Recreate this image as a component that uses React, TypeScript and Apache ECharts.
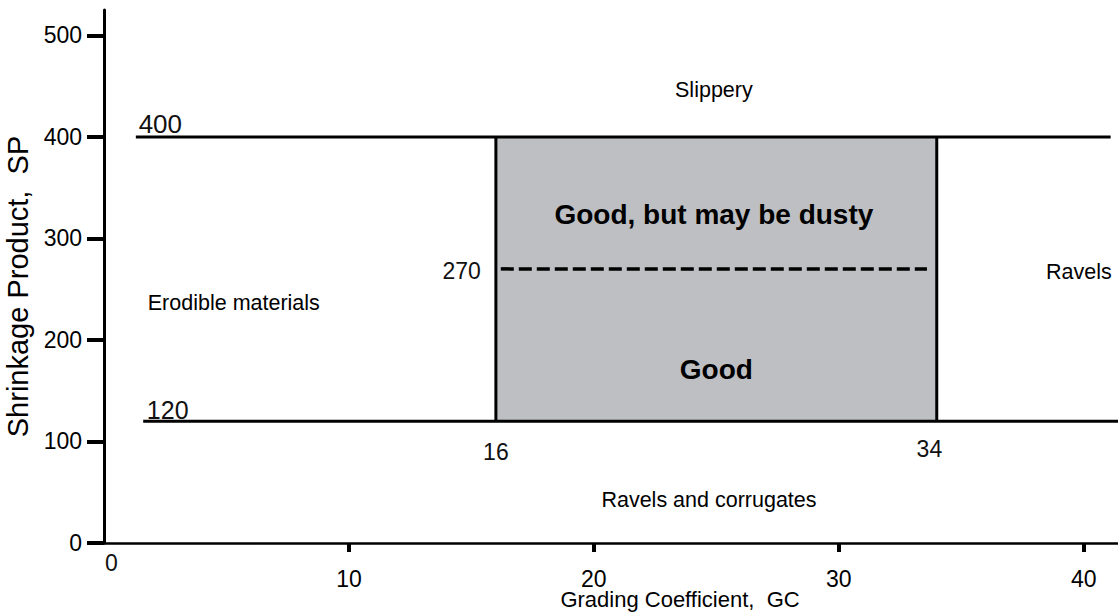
import React, { useEffect, useRef } from "react";
import * as echarts from "echarts";

// Zone boundaries (Grading Coefficient / Shrinkage Product)
const gcLow = 16;
const gcHigh = 34;
const spLow = 120;
const spHigh = 400;

// Boundary lines: [x1, x2, y] horizontal
const horizontalLines: [number, number, number][] = [
  [1.3, 41.1, 400],
  [1.6, 41.4, 120],
];
// vertical: [x, y1, y2]
const verticalLines: [number, number, number][] = [
  [16, 120, 400],
  [34, 120, 400],
];
// dashed SP = 270 boundary: [x1, x2, y]
const dashedLine: [number, number, number] = [16.2, 33.6, 270];

// Annotations: [text, x, y, kind]
const zoneLabels: [string, number, number, string][] = [
  ["Slippery", 24.9, 446, "normal"],
  ["Good, but may be dusty", 24.9, 324, "bold"],
  ["Good", 25, 171, "bold"],
  ["Erodible materials", 5.3, 236, "normal"],
  ["Ravels", 39.8, 267, "normal"],
  ["Ravels and corrugates", 24.7, 42, "normal"],
];
// Boundary value labels: [text, x, y, fontSize]
const valueLabels: [string, number, number, number][] = [
  ["400", 2.3, 413, 26],
  ["120", 2.6, 131, 25],
  ["270", 14.6, 268, 23],
  ["16", 16, 90, 23],
  ["34", 33.7, 93, 23],
];
// Origin tick label of the GC axis (drawn slightly offset as in the source)
const originLabel: [string, number, number] = ["0", 0.3, -19.5];

const xTicks = { min: 0, max: 41.4, interval: 10 };
const yTicks = { min: 0, max: 525, interval: 100 };

export default function App() {
  const ref = useRef<HTMLDivElement>(null);
  useEffect(() => {
    if (!ref.current) return;
    const chart = echarts.init(ref.current, undefined, { renderer: "svg" });
    const font = "Liberation Sans, Arial, sans-serif";
    const black = "#000";
    const textColor = "#000";
    const series: any[] = [];
    series.push({
      type: "line",
      data: [],
      z: 1,
      markArea: {
        silent: true,
        itemStyle: { color: "#BEBFC2", opacity: 1 },
        data: [[{ coord: [gcLow, spLow] }, { coord: [gcHigh, spHigh] }]],
      },
    });
    horizontalLines.forEach((l) => {
      series.push({
        type: "line",
        data: [[l[0], l[2]], [l[1], l[2]]],
        symbol: "none",
        z: 3,
        lineStyle: { color: black, width: 3 },
      });
    });
    verticalLines.forEach((l) => {
      series.push({
        type: "line",
        data: [[l[0], l[1]], [l[0], l[2]]],
        symbol: "none",
        z: 3,
        lineStyle: { color: black, width: 3 },
      });
    });
    series.push({
      type: "line",
      data: [[dashedLine[0], dashedLine[2]], [dashedLine[1], dashedLine[2]]],
      symbol: "none",
      z: 3,
      lineStyle: { color: black, width: 3.5, type: [13, 5] },
    });
    series.push({
      type: "scatter",
      symbolSize: 0,
      z: 4,
      itemStyle: { opacity: 1 },
      data: zoneLabels.map((z) => ({
        value: [z[1], z[2]],
        label: {
          show: true,
          position: "inside",
          formatter: z[0],
          color: black,
          opacity: 1,
          fontFamily: font,
          fontSize: z[3] === "bold" ? 28 : 21.5,
          fontWeight: z[3] === "bold" ? "bold" : "normal",
        },
      })),
    });
    series.push({
      type: "scatter",
      symbolSize: 0,
      z: 4,
      clip: false,
      itemStyle: { opacity: 1 },
      data: [...valueLabels, [originLabel[0], originLabel[1], originLabel[2], 23] as [string, number, number, number]].map((v) => ({
        value: [v[1], v[2]],
        label: {
          show: true,
          position: "inside",
          formatter: v[0],
          color: "#111",
          opacity: 1,
          fontFamily: font,
          fontSize: v[3],
        },
      })),
    });
    chart.setOption({
      animation: false,
      backgroundColor: "#fff",
      grid: { left: 104, right: 0, top: 10, bottom: 72, containLabel: false, outerBoundsMode: "none" },
      xAxis: {
        type: "value",
        min: xTicks.min,
        max: xTicks.max,
        interval: xTicks.interval,
        name: "Grading Coefficient,  GC",
        nameLocation: "middle",
        nameGap: 45,
        nameMoveOverlap: false,
        nameTextStyle: { fontFamily: font, fontSize: 22, color: textColor, padding: [0, 0, 0, 138] },
        axisLine: { lineStyle: { color: black, width: 2.5 } },
        axisTick: { show: true, inside: false, length: 9, lineStyle: { width: 4, color: black } },
        axisLabel: {
          fontFamily: font,
          fontSize: 23,
          color: textColor,
          margin: 24,
          showMinLabel: false,
          showMaxLabel: false,
        },
        splitLine: { show: false },
      },
      yAxis: {
        type: "value",
        min: yTicks.min,
        max: yTicks.max,
        interval: yTicks.interval,
        name: "Shrinkage Product,  SP",
        nameLocation: "middle",
        nameGap: 60,
        nameTextStyle: { fontFamily: font, fontSize: 29, color: textColor, padding: [0, 20, 0, 0] },
        axisLine: { show: true, lineStyle: { color: black, width: 3 } },
        axisTick: { show: true, inside: false, length: 17, lineStyle: { width: 4, color: black } },
        axisLabel: { fontFamily: font, fontSize: 23, color: textColor, margin: 22, showMaxLabel: false },
        splitLine: { show: false },
      },
      series,
    });
    return () => chart.dispose();
  }, []);
  return (
    <div
      ref={ref}
      style={{ position: "fixed", left: 0, top: 0, width: 1118, height: 615 }}
    />
  );
}
